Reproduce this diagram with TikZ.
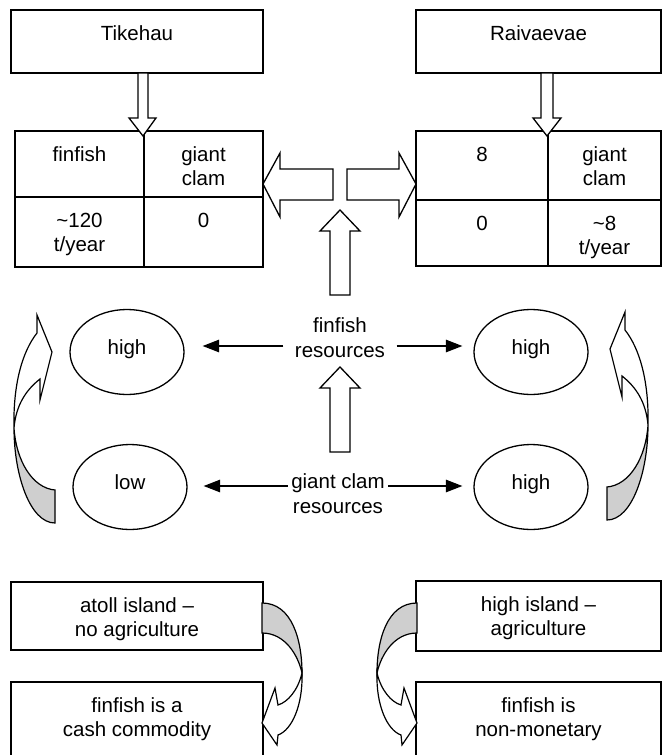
\documentclass[tikz,border=0pt]{standalone}
\usepackage{fontspec}
\setmainfont{Liberation Sans}
\usetikzlibrary{arrows.meta,shapes.geometric}

\begin{document}
\begin{tikzpicture}[x=1pt, y=-1pt, line width=1.3pt,
  font=\fontsize{20.5}{24.5}\selectfont,
  cell/.style={draw, anchor=north west, inner sep=0pt, outer sep=0pt,
               text height=30pt, align=center},
  cell2/.style={cell, text height=54.5pt},
  oval/.style={ellipse, draw, minimum width=114pt, minimum height=85pt,
               inner sep=0pt, text height=14pt, text depth=10pt},
  res/.style={align=center, inner ysep=0pt},
  arr/.style={-{Triangle[length=16.5pt,width=12.5pt]}, shorten >=11pt},
  blk/.style={draw, fill=white, line join=miter},
  band/.style={draw, fill=white, line width=1.2pt},
  bandback/.style={band, fill=gray!38}]
  \useasboundingbox (0,0) rectangle (662,755);
  \clip (0,0) rectangle (662,755);

  % island boxes and catch tables
  \node[cell, minimum width=252pt, text depth=33pt] (tikehau) at (11,10) {Tikehau};
  \node[cell, minimum width=129pt, text depth=36pt] (tkFin) at (15,131) {finfish};
  \node[cell2, minimum width=119pt, text depth=11.5pt] (tkClam) at (tkFin.north east) {giant\\clam};
  \node[cell2, minimum width=129pt, text depth=15.5pt] (tkFinV) at (tkFin.south west) {\textasciitilde120\\t/year};
  \node[cell, minimum width=119pt, text depth=40pt] (tkClamV) at (tkFinV.north east) {0};

  \node[cell, minimum width=245pt, text depth=33pt] (raivae) at (416,10) {Raivaevae};
  \node[cell, minimum width=132pt, text depth=39pt] (rvFin) at (416,131) {8};
  \node[cell2, minimum width=113pt, text depth=14.5pt] (rvClam) at (rvFin.north east) {giant\\clam};
  \node[cell, minimum width=132pt, text depth=36pt] (rvFinV) at (rvFin.south west) {0};
  \node[cell2, minimum width=113pt, text depth=11.5pt] (rvClamV) at (rvFinV.north east) {\textasciitilde8\\t/year};

  % block arrows
  \draw[blk] (138,73) -- (138,118) -- (129,118) -- (143,136) -- (156,118) -- (148,118) -- (148,73) -- cycle;
  \draw[blk] (541,73) -- (541,118) -- (533,118) -- (547,136) -- (561,118) -- (553,118) -- (553,73) -- cycle;
  \draw[blk] (333,169) -- (280,169) -- (280,153) -- (263,184) -- (280,217) -- (280,200) -- (333,200) -- cycle;
  \draw[blk] (347,169) -- (399,169) -- (399,153) -- (416,184) -- (399,217) -- (399,200) -- (347,200) -- cycle;
  \draw[blk] (330,295) -- (330,231) -- (320,231) -- (340,210) -- (360,231) -- (350,231) -- (350,295) -- cycle;
  \draw[blk] (330,452) -- (330,388) -- (320,388) -- (340,367) -- (360,388) -- (350,388) -- (350,452) -- cycle;

  % resources
  \node[res, inner xsep=11pt, text height=38.5pt, text depth=16.5pt] (ffres) at (340,346) {finfish\\resources};
  \node[res, inner xsep=3pt, text height=54pt, text depth=0pt] (gcres) at (338,486) {giant clam\\resources};

  \node[oval] (tkHiFf) at (127,352) {high};
  \node[oval] (tkLoGc) at (130,487) {low};
  \node[oval] (rvHiFf) at (531,352) {high};
  \node[oval] (rvHiGc) at (531,487) {high};

  \draw[arr, shorten >=18pt] (ffres.west) -- (ffres.west -| tkHiFf.east);
  \draw[arr] (ffres.east) -- (ffres.east -| rvHiFf.west);
  \draw[arr, shorten >=16pt] (gcres.west) -- (gcres.west -| tkLoGc.east);
  \draw[arr] (gcres.east) -- (gcres.east -| rvHiGc.west);

  % side loops
  \foreach \s/\x/\dy in {1/0/0, -1/662/3}{
    \begin{scope}[xshift=\x pt, yshift=\dy pt, xscale=\s]
      \draw[bandback] (55,490) -- (55,523) .. controls (30,523) and (14,475) .. (14,428)
        .. controls (16,460) and (32,488) .. (55,490) -- cycle;
      \draw[band] (14,428) .. controls (13,385) and (22,352) .. (37,333) -- (37,315) -- (52,352)
        -- (40,400) -- (40,379) .. controls (26,390) and (16,405) .. (14,428) -- cycle;
    \end{scope}
  }

  % island type and use of finfish
  \node[cell2, minimum width=252pt, text depth=13.5pt] (atoll) at (11,582) {atoll island –\\no agriculture};
  \node[cell2, minimum width=252pt, text depth=35.5pt] (tkCash) at (11,682) {finfish is a\\cash commodity};
  \node[cell2, minimum width=245pt, text depth=15.5pt] (highisl) at (416,581) {high island –\\agriculture};
  \node[cell2, minimum width=245pt, text depth=35.5pt] (rvNonmon) at (416,682) {finfish is\\non-monetary};

  \foreach \s/\x in {1/0, -1/679}{
    \begin{scope}[xshift=\x pt, xscale=\s]
      \draw[bandback] (262,603) .. controls (292,603) and (302,640) .. (302,673)
        .. controls (298,655) and (285,633) .. (262,633) -- cycle;
      \draw[band] (302,673) .. controls (303,705) and (292,730) .. (278,735) -- (277,745) -- (262,723)
        -- (275,688) -- (278,705) .. controls (288,702) and (298,690) .. (302,673) -- cycle;
    \end{scope}
  }
\end{tikzpicture}
\end{document}
